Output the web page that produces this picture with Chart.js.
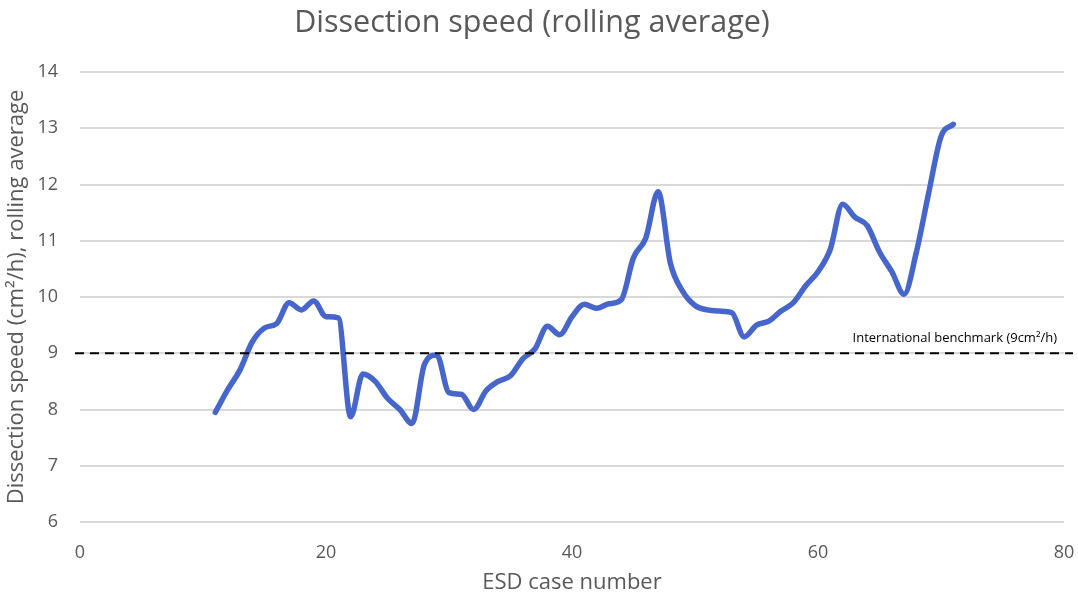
<!DOCTYPE html>
<html>
<head>
<meta charset="utf-8">
<script src="https://cdn.jsdelivr.net/npm/chart.js@4"></script>
<style>
  body { margin: 0; background: #fff; }
  #wrap { width: 1078px; height: 601px; }
</style>
</head>
<body>
<div id="wrap"><canvas id="speedChart"></canvas></div>
<script>
// ESD case number for each rolling-average point
const caseNumbers = [
    11, 12, 13, 14, 15, 16, 17, 18, 19, 20,
    21, 22, 23, 24, 25, 26, 27, 28, 29, 30,
    31, 32, 33, 34, 35, 36, 37, 38, 39, 40,
    41, 42, 43, 44, 45, 46, 47, 48, 49, 50,
    51, 52, 53, 54, 55, 56, 57, 58, 59, 60,
    61, 62, 63, 64, 65, 66, 67, 68, 69, 70, 71
];

// dissection speed, cm2/h (rolling average)
const speedValues = [
    7.95, 8.35, 8.7, 9.2, 9.45, 9.53, 9.9, 9.77, 9.93, 9.65,
    9.63, 7.87, 8.63, 8.5, 8.2, 8.0, 7.75, 8.8, 8.97, 8.3,
    8.27, 8.0, 8.33, 8.5, 8.6, 8.9, 9.08, 9.48, 9.33, 9.65,
    9.87, 9.8, 9.88, 9.95, 10.7, 11.05, 11.87, 10.6, 10.1, 9.85,
    9.77, 9.75, 9.72, 9.29, 9.5, 9.57, 9.75, 9.9, 10.2, 10.45,
    10.85, 11.65, 11.42, 11.27, 10.8, 10.45, 10.05, 10.8, 11.85, 12.85, 13.07
];

const xTicks = [0, 20, 40, 60, 80];
const yTicks = [6, 7, 8, 9, 10, 11, 12, 13, 14];

const benchmarkValue = 9;
const benchmarkLabel = "International benchmark (9cm²/h)";

const textColor = "#595959";
const fontFamily = "'Open Sans', 'Noto Sans', sans-serif";

const points = caseNumbers.map((c, i) => ({ x: c, y: speedValues[i] }));

// dashed benchmark line + its label
const benchmarkPlugin = {
    id: "benchmark",
    afterDatasetsDraw(chart) {
        const ctx = chart.ctx;
        const area = chart.chartArea;
        const y = chart.scales.y.getPixelForValue(benchmarkValue);
        ctx.save();
        ctx.strokeStyle = "#000";
        ctx.lineWidth = 2;
        ctx.setLineDash([9, 6]);
        ctx.beginPath();
        ctx.moveTo(area.left - 5, y);
        ctx.lineTo(area.right + 9, y);
        ctx.stroke();
        ctx.setLineDash([]);
        ctx.fillStyle = "#000";
        ctx.font = "13px " + fontFamily;
        ctx.textAlign = "right";
        ctx.textBaseline = "middle";
        ctx.fillText(benchmarkLabel, area.right - 7, y - 15);
        ctx.restore();
    },
};

const ctx = document.getElementById("speedChart").getContext("2d");

new Chart(ctx, {
    type: "line",
    data: {
        datasets: [
            {
                label: "Dissection speed",
                data: points,
                borderColor: "#4766cc",
                borderWidth: 5.5,
                pointRadius: 0,
                tension: 0.4,
                cubicInterpolationMode: "monotone",
                borderCapStyle: "round",
                borderJoinStyle: "round",
                fill: false,
            },
        ],
    },
    options: {
        responsive: true,
        maintainAspectRatio: false,
        animation: false,
        layout: { padding: { left: 0, right: 14, top: 0, bottom: 0 } },
        plugins: {
            legend: { display: false },
            tooltip: { enabled: false },
            title: {
                display: true,
                text: "Dissection speed (rolling average)",
                color: textColor,
                font: { family: fontFamily, size: 30.5, weight: "normal" },
                padding: { top: 5, bottom: 30.4 },
            },
        },
        scales: {
            x: {
                type: "linear",
                min: 0,
                max: 80,
                afterBuildTicks: (scale) => {
                    scale.ticks = xTicks.map((v) => ({ value: v }));
                },
                afterFit: (scale) => {
                    scale.height = 79;
                    scale.paddingLeft = 0;
                    scale.paddingRight = 0;
                },
                grid: { display: false, drawTicks: false },
                border: { display: false },
                ticks: {
                    color: textColor,
                    font: { family: fontFamily, size: 18 },
                    padding: 20,
                    maxRotation: 0,
                },
                title: {
                    display: true,
                    text: "ESD case number",
                    color: textColor,
                    font: { family: fontFamily, size: 22 },
                    padding: { top: 5, bottom: 5 },
                },
            },
            y: {
                type: "linear",
                min: 6,
                max: 14,
                afterBuildTicks: (scale) => {
                    scale.ticks = yTicks.map((v) => ({ value: v }));
                },
                afterFit: (scale) => {
                    scale.width = 80;
                },
                grid: { color: "#d9d9d9", lineWidth: 2, drawTicks: false },
                border: { display: false },
                ticks: {
                    color: textColor,
                    font: { family: fontFamily, size: 18 },
                    padding: 22,
                },
                title: {
                    display: true,
                    text: "Dissection speed (cm²/h), rolling average",
                    color: textColor,
                    font: { family: fontFamily, size: 22 },
                    padding: { top: 4, bottom: 4 },
                },
            },
        },
    },
    plugins: [benchmarkPlugin],
});
</script>
</body>
</html>
